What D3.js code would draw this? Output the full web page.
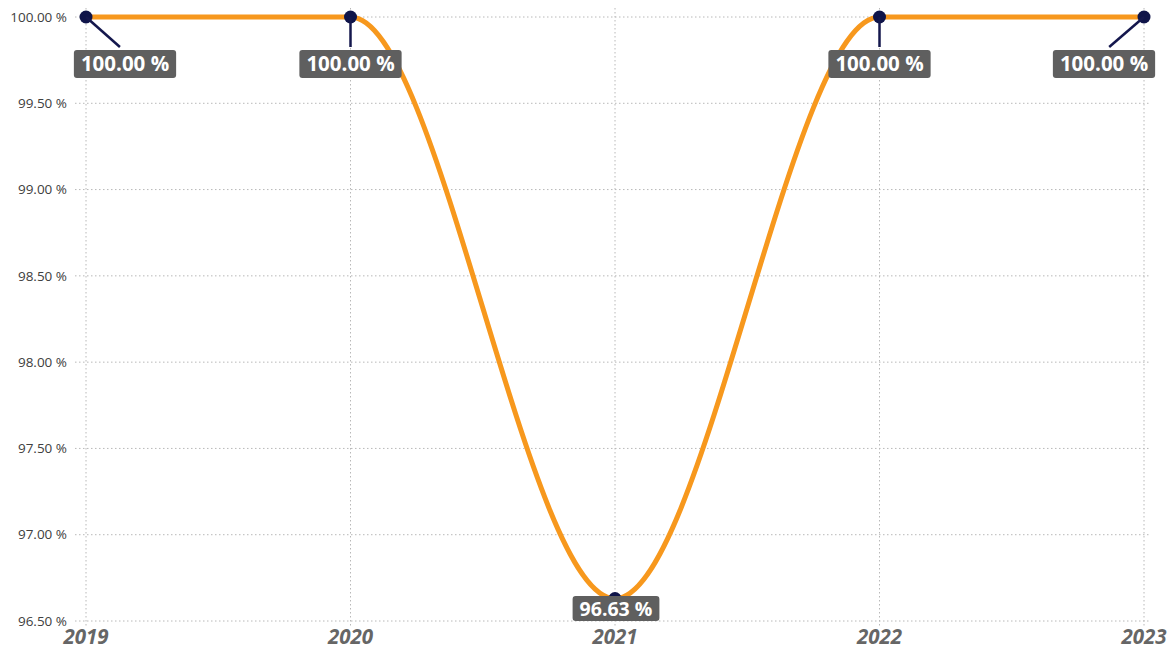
<!DOCTYPE html>
<html>
<head>
<meta charset="utf-8">
<script src="https://cdn.jsdelivr.net/npm/d3@7"></script>
<style>
  body { margin: 0; background: #fff; }
  svg { display: block; font-family: "Open Sans", "Noto Sans", sans-serif; }
</style>
</head>
<body>
<div id="chart"></div>
<script>
// chart data
const years = ["2019", "2020", "2021", "2022", "2023"];
const values = [100, 100, 96.63, 100, 100];
const yTicks = [96.5, 97, 97.5, 98, 98.5, 99, 99.5, 100];

const width = 1173, height = 650;

const x = d3.scalePoint()
    .domain(years)
    .range([86, 1144]);

const y = d3.scaleLinear()
    .domain([96.5, 100])
    .range([621, 17]);

const svg = d3.select("#chart").append("svg")
    .attr("width", width)
    .attr("height", height);

// horizontal gridlines
svg.append("g")
    .selectAll("line")
    .data(yTicks)
  .enter().append("line")
    .attr("x1", 75)
    .attr("x2", 1150)
    .attr("y1", d => y(d))
    .attr("y2", d => y(d))
    .attr("stroke", "#b8b8b8")
    .attr("stroke-width", 1)
    .attr("stroke-dasharray", "1.5,2.5");

// vertical gridlines
svg.append("g")
    .selectAll("line")
    .data(years)
  .enter().append("line")
    .attr("x1", d => x(d))
    .attr("x2", d => x(d))
    .attr("y1", 8)
    .attr("y2", 626)
    .attr("stroke", "#b8b8b8")
    .attr("stroke-width", 1)
    .attr("stroke-dasharray", "1.5,2.5");

// y axis labels
svg.append("g")
    .selectAll("text")
    .data(yTicks)
  .enter().append("text")
    .attr("x", 67)
    .attr("y", d => y(d))
    .attr("dy", "0.35em")
    .attr("text-anchor", "end")
    .attr("font-size", 13.5)
    .attr("fill", "#404040")
    .text(d => d3.format(".2f")(d) + " %");

// x axis labels
svg.append("g")
    .selectAll("text")
    .data(years)
  .enter().append("text")
    .attr("x", d => x(d))
    .attr("y", 644)
    .attr("text-anchor", "middle")
    .attr("font-size", 20.5)
    .attr("font-weight", "bold")
    .attr("font-style", "italic")
    .attr("fill", "#666666")
    .text(d => d);

const points = years.map((yr, i) => ({ year: yr, value: values[i] }));

// the line
const line = d3.line()
    .x(d => x(d.year))
    .y(d => y(d.value))
    .curve(d3.curveMonotoneX);

svg.append("path")
    .datum(points)
    .attr("fill", "none")
    .attr("stroke", "#F7981D")
    .attr("stroke-width", 5)
    .attr("stroke-linecap", "round")
    .attr("d", line);

// markers
svg.append("g")
    .selectAll("circle")
    .data(points)
  .enter().append("circle")
    .attr("cx", d => x(d.year))
    .attr("cy", d => y(d.value))
    .attr("r", 6.5)
    .attr("fill", "#0f1449");

// label placement (offset of box centre from the point)
const labelOffsets = [
    { dx: 39, dy: 47, h: 28, leader: true },
    { dx: 0, dy: 47, h: 28, leader: true },
    { dx: 1, dy: 10, h: 25, leader: false },
    { dx: 0, dy: 47, h: 28, leader: true },
    { dx: -40, dy: 47, h: 28, leader: true }
];

const labels = svg.append("g");
points.forEach((p, i) => {
    const px = x(p.year), py = y(p.value);
    const off = labelOffsets[i];
    const cx = px + off.dx, cy = py + off.dy;
    const boxH = off.h;
    if (off.leader) {
        const tx = px + off.dx * 0.87;
        labels.append("line")
            .attr("x1", px).attr("y1", py)
            .attr("x2", tx).attr("y2", cy - boxH / 2 - 3)
            .attr("stroke", "#14174d")
            .attr("stroke-width", 2.5);
    }
    const g = labels.append("g");
    const rect = g.append("rect")
        .attr("rx", 3)
        .attr("fill", "#5f5f5f");
    const t = g.append("text")
        .attr("x", cx)
        .attr("y", cy)
        .attr("dy", "0.36em")
        .attr("text-anchor", "middle")
        .attr("font-size", i === 2 ? 19.5 : 20.5)
        .attr("font-weight", "bold")
        .attr("fill", "#ffffff")
        .text(d3.format(".2f")(p.value) + " %");
    const w = t.node().getComputedTextLength() + 14;
    rect.attr("x", cx - w / 2)
        .attr("y", cy - boxH / 2)
        .attr("width", w)
        .attr("height", boxH);
});
</script>
</body>
</html>
